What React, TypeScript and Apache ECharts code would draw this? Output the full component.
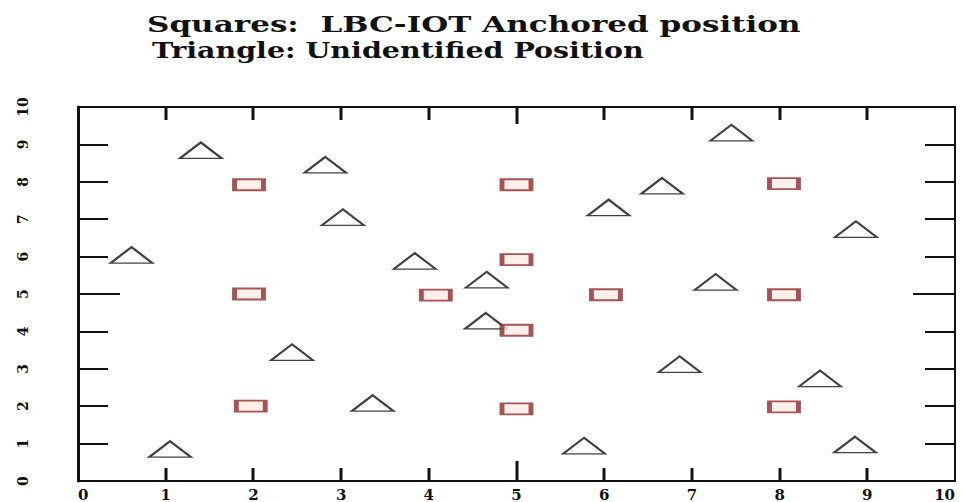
import React, { useEffect, useRef } from "react";
import * as echarts from "echarts";

const titleLines = ["Squares:  LBC-IOT Anchored position", "Triangle: Unidentified Position"];
const xTicks = [0, 1, 2, 3, 4, 5, 6, 7, 8, 9, 10];
const yTicks = [0, 1, 2, 3, 4, 5, 6, 7, 8, 9, 10];
const majorTick = [5];

// Anchored positions (squares)
const anchorX = [1.95, 5.0, 8.05, 1.95, 4.08, 5.0, 6.02, 8.05, 5.0, 1.97, 5.0, 8.05];
const anchorY = [7.92, 7.92, 7.95, 5.0, 4.97, 5.92, 4.98, 4.98, 4.03, 2.0, 1.93, 1.98];

// Unidentified positions (triangles)
const unknownX = [1.4, 2.82, 3.02, 0.61, 2.44, 3.36, 1.05, 3.84, 4.66, 4.65, 5.77, 6.05, 6.66, 7.45, 8.87, 7.27, 6.86, 8.46, 8.86];
const unknownY = [8.84, 8.45, 7.05, 6.04, 3.44, 2.08, 0.85, 5.88, 5.38, 4.28, 0.94, 7.31, 7.89, 9.31, 6.73, 5.32, 3.12, 2.74, 0.97];

const FONT = "'DejaVu Serif', 'Liberation Serif', serif";
const INK = "#111111";
const titleScaleX = [1.35, 1.24];

export default function App() {
  const ref = useRef<HTMLDivElement>(null);
  useEffect(() => {
    if (!ref.current) return;
    const chart = echarts.init(ref.current, undefined, { renderer: "svg" });
    const xBase = {
      type: "value",
      min: xTicks[0],
      max: xTicks[xTicks.length - 1],
      interval: 1,
      splitLine: { show: false },
    };
    const yBase = {
      type: "value",
      min: yTicks[0],
      max: yTicks[yTicks.length - 1],
      interval: 1,
      splitLine: { show: false },
    };
    const yTickAxis = (position: string, length: number, custom: number[]) => ({
      ...yBase,
      position,
      axisLine: { show: false, onZero: false },
      axisTick: { show: true, inside: true, length, customValues: custom, lineStyle: { color: INK, width: 2 } },
      axisLabel: { show: false },
    });
    const titleGraphics = titleLines.map((t, i) => ({
      type: "text",
      id: "title" + i,
      x: i === 0 ? 147 : 152,
      y: 12 + i * 26,
      scaleX: titleScaleX[i],
      style: {
        text: t,
        font: `bold 23px ${FONT}`,
        fill: INK,
        textVerticalAlign: "top",
      },
    }));
    chart.setOption({
      animation: false,
      backgroundColor: "#ffffff",
      graphic: titleGraphics,
      grid: { left: 78, right: 7, top: 107, bottom: 19 },
      xAxis: [
        {
          ...xBase,
          position: "bottom",
          axisLine: { show: true, onZero: false, lineStyle: { color: INK, width: 2 } },
          axisTick: { show: false },
          axisLabel: {
            show: true,
            margin: 6,
            fontFamily: FONT,
            fontWeight: "bold",
            fontSize: 15,
            color: INK,
            alignMinLabel: "left",
            alignMaxLabel: "right",
            formatter: (v: number) => String(v),
          },
        },
        {
          ...xBase,
          position: "top",
          axisLine: { show: true, onZero: false, lineStyle: { color: INK, width: 2 } },
          axisTick: { show: false },
          axisLabel: { show: false },
        },
      ],
      yAxis: [
        {
          ...yBase,
          position: "left",
          axisLine: { show: true, onZero: false, lineStyle: { color: INK, width: 3 } },
          axisTick: { show: true, inside: true, length: 30, lineStyle: { color: INK, width: 2 } },
          axisLabel: {
            show: true,
            rotate: 90,
            margin: 48,
            fontFamily: FONT,
            fontWeight: "bold",
            fontSize: 14,
            color: INK,
            formatter: (v: number) => String(v),
          },
        },
        yTickAxis("left", 42, majorTick),
        {
          ...yBase,
          position: "right",
          axisLine: { show: true, onZero: false, lineStyle: { color: INK, width: 2 } },
          axisTick: { show: true, inside: true, length: 30, lineStyle: { color: INK, width: 2 } },
          axisLabel: { show: false },
        },
        yTickAxis("right", 42, majorTick),
      ],
      series: [
        {
          name: "Unidentified Position",
          type: "scatter",
          xAxisIndex: 0,
          yAxisIndex: 0,
          symbol: "triangle",
          symbolSize: [42, 16],
          itemStyle: { color: "#ffffff", borderColor: INK, borderWidth: 2 },
          data: unknownX.map((x, i) => [x, unknownY[i]]),
        },
        {
          name: "LBC-IOT Anchored position",
          type: "scatter",
          xAxisIndex: 0,
          yAxisIndex: 0,
          symbol: "rect",
          symbolSize: [29, 11],
          itemStyle: { color: "#fdebe4", borderColor: "#8e2b2b", borderWidth: 3 },
          data: anchorX.map((x, i) => [x, anchorY[i]]),
        },
      ],
    });

    // x-axis ticks (bottom and top), positioned through the chart's own scales
    const yMin = yTicks[0];
    const yMax = yTicks[yTicks.length - 1];
    const tickGraphics: any[] = [];
    xTicks.slice(1, -1).forEach((v, i) => {
      const pb = chart.convertToPixel({ gridIndex: 0 }, [v, yMin]) as number[];
      const pt = chart.convertToPixel({ gridIndex: 0 }, [v, yMax]) as number[];
      if (!pb || !pt) return;
      const major = majorTick.indexOf(v) >= 0;
      const lenB = major ? 20 : 13;
      const lenT = major ? 17 : 13;
      const x = Math.round(pb[0]) - 1.5;
      tickGraphics.push({
        type: "rect",
        id: "tb" + i,
        z: 10,
        shape: { x, y: pb[1] - lenB, width: 3, height: lenB },
        style: { fill: INK },
        silent: true,
      });
      tickGraphics.push({
        type: "rect",
        id: "tt" + i,
        z: 10,
        shape: { x, y: pt[1], width: 3, height: lenT },
        style: { fill: INK },
        silent: true,
      });
    });
    chart.setOption({ graphic: [...titleGraphics, ...tickGraphics] });
    return () => chart.dispose();
  }, []);
  return <div ref={ref} style={{ width: 962, height: 502, position: "fixed", left: 0, top: 0 }} />;
}
